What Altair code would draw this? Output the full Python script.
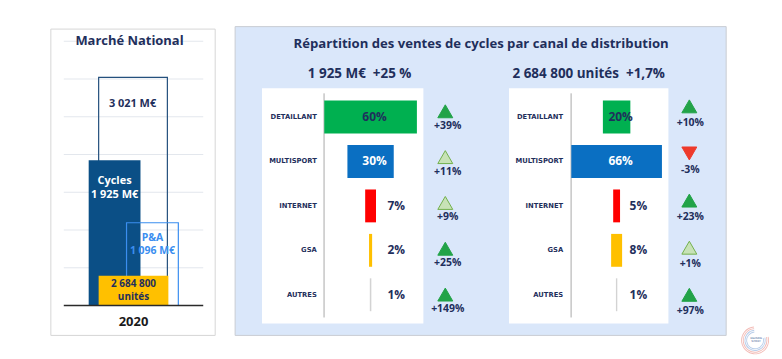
import altair as alt
import pandas as pd

# ---------------- data ----------------
annee = "2020"
marche_series = ["Total", "Cycles", "P&A"]
marche_valeurs = [3021, 1925, 1096]
unites_vendues = 2684800
graduations = [500, 1000, 1500, 2000, 2500, 3000, 3500]

canaux = ["DETAILLANT", "MULTISPORT", "INTERNET", "GSA", "AUTRES"]
part_valeur = [60, 30, 7, 2, 1]
evo_valeur = [39, 11, 9, 25, 149]
tendance_valeur = ["forte", "modérée", "modérée", "forte", "forte"]
part_volume = [20, 66, 5, 8, 1]
evo_volume = [10, -3, 23, 1, 97]
tendance_volume = ["forte", "baisse", "forte", "modérée", "forte"]

titre_gauche = "Marché National"
titre_droite = "Répartition des ventes de cycles par canal de distribution"
sous_titre_valeur = "1 925 M€\u00a0\u00a0+25 %"
sous_titre_volume = "2 684 800 unités\u00a0\u00a0+1,7%"

# ---------------- styles ----------------
NAVY = "#1f2f5c"
FONT = "Open Sans"
couleurs_canaux = ["#00b050", "#0a6fc2", "#ff0000", "#ffc000", "#d3d3d3"]
tend_dom = ["forte", "modérée", "baisse"]
tend_shape = ["triangle-up", "triangle-up", "triangle-down"]
tend_fill = ["#22a348", "#c7e2b6", "#ee3a2b"]
tend_stroke = ["#22a348", "#72b04c", "#ee3a2b"]
H = 310


def fr(n):
    return f"{n:,}".replace(",", " ")


one = pd.DataFrame({"k": [0]})


def texte(t, x, y, size, color=NAVY, font=FONT, opacity=1):
    return alt.Chart(one).mark_text(
        text=t, font=font, fontWeight="bold", fontSize=size, color=color,
        align="center", baseline="middle", opacity=opacity
    ).encode(x=alt.value(x), y=alt.value(y))


def rect(x0, x1, y0, y1, **mark):
    return alt.Chart(one).mark_rect(**mark).encode(
        x=alt.value(x0), x2=alt.value(x1), y=alt.value(y0), y2=alt.value(y1))


# ---------------- left panel ----------------
marche = pd.DataFrame({"serie": marche_series, "valeur": marche_valeurs})
marche["label"] = [fr(v) + " M€" for v in marche_valeurs]
yS = alt.Scale(domain=[0, 3500], range=[280, 14.7], nice=False, zero=False)

cadre = rect(0, 165, 2.5, 310, fill="white", stroke="#d6d6d6", strokeWidth=1)

grille = alt.Chart(pd.DataFrame({"v": graduations})).mark_rule(
    color="#e3e7ed", strokeWidth=1).encode(
    y=alt.Y("v:Q", scale=yS, axis=None), x=alt.value(13), x2=alt.value(153))


def barre(serie, x0, x1, **mark):
    return alt.Chart(marche).transform_filter(alt.datum.serie == serie).mark_rect(**mark).encode(
        x=alt.value(x0), x2=alt.value(x1),
        y=alt.Y("valeur:Q", scale=yS, axis=None), y2=alt.Y2Datum(0))


total = barre("Total", 48, 117, fill="white", fillOpacity=0, stroke="#24507d", strokeWidth=1.2)
cycles = barre("Cycles", 38, 90, fill="#0b4f86")
pa = barre("P&A", 76, 128, fill="white", fillOpacity=0, stroke="#3b8ef0", strokeWidth=1.2)
unites_box = rect(48, 118, 250, 280, fill="#ffc000")
base_line = alt.Chart(pd.DataFrame({"v": [0]})).mark_rule(color="#2a2a2a", strokeWidth=1.6).encode(
    y=alt.Y("v:Q", scale=yS, axis=None), x=alt.value(13), x2=alt.value(153))


def etiquette(serie, x, dy, color, expr, size=11):
    return alt.Chart(marche).transform_filter(alt.datum.serie == serie).transform_calculate(
        txt=expr).mark_text(font=FONT, fontWeight="bold", fontSize=size, color=color,
                            align="center", baseline="middle", dy=dy).encode(
        x=alt.value(x), y=alt.Y("valeur:Q", scale=yS, axis=None), text="txt:N")


lab_total = etiquette("Total", 82, 27, NAVY, "datum.label")
lab_cycles1 = etiquette("Cycles", 64, 21, "white", "datum.serie")
lab_cycles2 = etiquette("Cycles", 64, 35, "white", "datum.label")
lab_pa1 = etiquette("P&A", 102, 15.5, "#3b8ef0", "datum.serie", 10.5)
lab_pa2 = etiquette("P&A", 102, 28.5, "#3b8ef0", "datum.label", 10.5)

gauche = alt.layer(
    cadre, grille, total, cycles, pa, unites_box, base_line,
    lab_total, lab_cycles1, lab_cycles2, lab_pa1, lab_pa2,
    texte(fr(unites_vendues), 83, 258.8, 10),
    texte("unités", 83, 271.8, 10),
    texte(titre_gauche, 79, 14, 13),
    texte(annee, 83, 297, 13, color="#1a1a1a"),
).properties(width=185, height=H)


# ---------------- right panel ----------------
def donnees(parts, evos, tendances):
    df = pd.DataFrame({"canal": canaux, "part": parts, "evo": evos, "tendance": tendances})
    return alt.Chart(df).transform_calculate(
        lo="-datum.part / 2", hi="datum.part / 2", pct="datum.part + '%'",
        evo_lbl="(datum.evo > 0 ? '+' : '') + datum.evo + '%'")


def lignes(base, x_dom, x_rng, lab_x, out_x):
    ys = alt.Y("canal:N", sort=canaux, axis=None,
               scale=alt.Scale(domain=canaux, range=[68.5, 291.5], paddingInner=0.26, paddingOuter=0.13))
    xs = alt.Scale(domain=x_dom, range=x_rng, nice=False, zero=False)
    bars = base.mark_bar().encode(
        x=alt.X("lo:Q", scale=xs, axis=None), x2="hi:Q", y=ys,
        color=alt.Color("canal:N", scale=alt.Scale(domain=canaux, range=couleurs_canaux), legend=None))
    inside = base.transform_filter("datum.part >= 15").transform_calculate(
        zero="0", txtcol="datum.canal == 'MULTISPORT' ? 'white' : '" + NAVY + "'").mark_text(
        font=FONT, fontWeight="bold", fontSize=12, dx=4, align="center", baseline="middle").encode(
        x=alt.X("zero:Q", scale=xs, axis=None), y=ys, text="pct:N",
        color=alt.Color("txtcol:N", scale=None))
    outside = base.transform_filter("datum.part < 15").mark_text(
        font=FONT, fontWeight="bold", fontSize=12, align="left", baseline="middle", color=NAVY).encode(
        x=alt.value(out_x), y=ys, text="pct:N")
    cats = base.mark_text(font="DejaVu Sans", fontWeight="bold", fontSize=6.8, align="right",
                          baseline="middle", color=NAVY).encode(x=alt.value(lab_x), y=ys, text="canal:N")
    return [bars, inside, outside, cats]


def tendances(base, tri_x, tri_rng, evo_x, evo_dy):
    ty = alt.Y("canal:N", sort=canaux, axis=None,
               scale=alt.Scale(domain=canaux, range=tri_rng, paddingInner=0, paddingOuter=0))
    tri = base.mark_point(size=225, filled=True, strokeWidth=1, opacity=1).encode(
        x=alt.value(tri_x), y=ty,
        shape=alt.Shape("tendance:N", scale=alt.Scale(domain=tend_dom, range=tend_shape), legend=None),
        fill=alt.Fill("tendance:N", scale=alt.Scale(domain=tend_dom, range=tend_fill), legend=None),
        stroke=alt.Stroke("tendance:N", scale=alt.Scale(domain=tend_dom, range=tend_stroke), legend=None))
    evo = base.mark_text(font=FONT, fontWeight="bold", fontSize=10.5, align="center",
                         baseline="middle", dy=evo_dy, color=NAVY).encode(
        x=alt.value(evo_x), y=ty, text="evo_lbl:N")
    return [tri, evo]


def anneau(cx, cy, r, color):
    return alt.Chart(one).mark_arc(color=color, opacity=0.55).encode(
        x=alt.value(cx), y=alt.value(cy), theta=alt.value(1.3), theta2=alt.value(6.2),
        radius=alt.value(r), radius2=alt.value(r - 0.9))


baseL = donnees(part_valeur, evo_valeur, tendance_valeur)
baseR = donnees(part_volume, evo_volume, tendance_volume)

# left half of the blue panel (origin x=235); the blue panel spans the next views too
lignesL = alt.layer(
    rect(0, 493, 0, H, fill="#dae7fa", stroke="#c9cdd3", strokeWidth=1),
    texte(titre_droite, 247, 17, 13.2),
    texte(sous_titre_valeur, 125, 48, 13.5),
    rect(27, 189, 62, 298, fill="white"),
    alt.Chart(one).mark_rule(color="#a9a9a9", strokeWidth=1).encode(
        x=alt.value(89.3), y=alt.value(67), y2=alt.value(292)),
    *lignes(baseL, [-30, 30], [89.5, 182.5], 82, 153),
).properties(width=195, height=H)

triL = alt.layer(*tendances(baseL, 16, [62, 292], 18.5, 14.5)).properties(width=54, height=H)

lignesR = alt.layer(
    texte(sous_titre_volume, 106, 48, 13.5),
    rect(26, 186, 62, 298, fill="white"),
    alt.Chart(one).mark_rule(color="#a9a9a9", strokeWidth=1).encode(
        x=alt.value(88.3), y=alt.value(67), y2=alt.value(292)),
    *lignes(baseR, [-33, 33], [88.5, 179.5], 80.3, 147),
).properties(width=196, height=H)

# small logo in the bottom-right corner (decoration)
logo = [anneau(77, 315, 14, "#e8837a"), anneau(77, 315, 12.3, "#e8837a"),
        anneau(77, 315, 10.6, "#7fa6d8"), anneau(77, 315, 8.9, "#7fa6d8"),
        texte("MAISON", 78, 312.5, 2.6, color="#4a6a9a", font="DejaVu Sans", opacity=0.7),
        texte("SPORT", 78, 316, 2.6, color="#4a6a9a", font="DejaVu Sans", opacity=0.7)]

triR = alt.layer(*tendances(baseR, 11, [56.4, 292.9], 12, 16.5), *logo).properties(width=48, height=H)

chart = alt.hconcat(gauche, lignesL, triL, lignesR, triR, spacing=0, bounds="flush").properties(
    padding={"left": 42, "top": 17, "right": 5, "bottom": 5}, background="white"
).configure_view(strokeWidth=0)

chart.save("out.html", embed_options={"renderer": "svg", "actions": False})
